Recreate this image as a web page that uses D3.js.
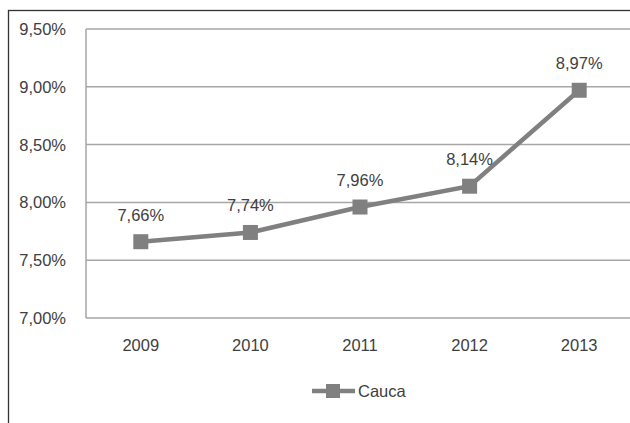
<!DOCTYPE html>
<html>
<head>
<meta charset="utf-8">
<script src="https://cdn.jsdelivr.net/npm/d3@7"></script>
<style>
  body { margin: 0; background: #fff; }
  text { font-family: "Liberation Sans", Arial, sans-serif; fill: #404040; }
</style>
</head>
<body>
<div id="chart"></div>
<script>
//data
const years = ["2009", "2010", "2011", "2012", "2013"]
const values = [7.66, 7.74, 7.96, 8.14, 8.97]
const yTicks = [7.0, 7.5, 8.0, 8.5, 9.0, 9.5]
const seriesName = "Cauca"

const W = 630, H = 423
const plot = { left: 86, right: 634, top: 29, bottom: 318 }
const grey = "#808080"
const fmt = v => d3.format(".2f")(v).replace(".", ",") + "%"

let svg = d3.select("#chart").append("svg")
  .attr("width", W)
  .attr("height", H)

//outer frame, goes off the right and bottom edge
svg.append("rect")
  .attr("x", 8.5).attr("y", 10.5)
  .attr("width", 640).attr("height", 440)
  .attr("fill", "none")
  .attr("stroke", "#333")
  .attr("stroke-width", 1.3)

const x = d3.scaleBand().domain(years).range([plot.left, plot.right])
const y = d3.scaleLinear().domain([7, 9.5]).range([plot.bottom, plot.top])

//gridlines
svg.append("g").selectAll("line")
  .data(yTicks)
  .join("line")
  .attr("x1", plot.left).attr("x2", plot.right)
  .attr("y1", d => y(d)).attr("y2", d => y(d))
  .attr("stroke", "#a6a6a6")
  .attr("stroke-width", 1.5)

//left axis line
svg.append("line")
  .attr("x1", plot.left).attr("x2", plot.left)
  .attr("y1", plot.top).attr("y2", plot.bottom)
  .attr("stroke", "#a6a6a6")
  .attr("stroke-width", 1.5)

//y tick labels
svg.append("g").selectAll("text")
  .data(yTicks)
  .join("text")
  .attr("x", 66)
  .attr("y", d => y(d) + 6)
  .attr("text-anchor", "end")
  .attr("font-size", 16.5)
  .text(d => fmt(d))

//x tick labels
svg.append("g").selectAll("text")
  .data(years)
  .join("text")
  .attr("x", d => x(d) + x.bandwidth() / 2)
  .attr("y", 351)
  .attr("text-anchor", "middle")
  .attr("font-size", 16.5)
  .text(d => d)

const pts = years.map((d, i) => ({ year: d, v: values[i] }))
const line = d3.line()
  .x(d => x(d.year) + x.bandwidth() / 2)
  .y(d => y(d.v))

svg.append("path")
  .datum(pts)
  .attr("d", line)
  .attr("fill", "none")
  .attr("stroke", grey)
  .attr("stroke-width", 4.5)

const ms = 15
svg.append("g").selectAll("rect")
  .data(pts)
  .join("rect")
  .attr("x", d => x(d.year) + x.bandwidth() / 2 - ms / 2)
  .attr("y", d => y(d.v) - ms / 2)
  .attr("width", ms).attr("height", ms)
  .attr("fill", grey)

//data labels
svg.append("g").selectAll("text")
  .data(pts)
  .join("text")
  .attr("x", d => x(d.year) + x.bandwidth() / 2)
  .attr("y", d => y(d.v) - 21)
  .attr("text-anchor", "middle")
  .attr("font-size", 16.5)
  .text(d => fmt(d.v))

//legend
let lg = svg.append("g").attr("transform", "translate(312,391)")
lg.append("line")
  .attr("x1", 0).attr("x2", 43)
  .attr("stroke", grey).attr("stroke-width", 4.5)
lg.append("rect")
  .attr("x", 14).attr("y", -7)
  .attr("width", 14).attr("height", 14)
  .attr("fill", grey)
lg.append("text")
  .attr("x", 46).attr("y", 6)
  .attr("font-size", 16.5)
  .text(seriesName)
</script>
</body>
</html>
